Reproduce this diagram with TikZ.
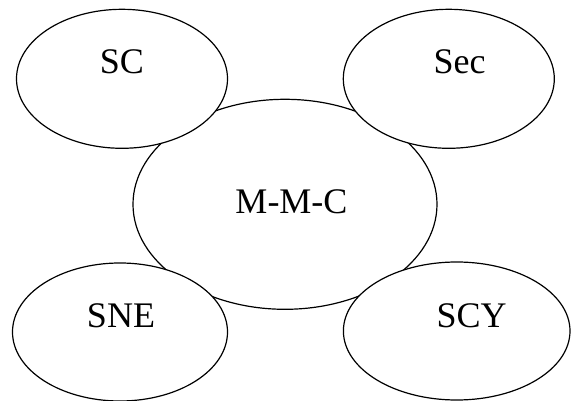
\documentclass[tikz,border=0pt]{standalone}
\usepackage{fontspec}
\setmainfont{Liberation Serif}
\usetikzlibrary{shapes.geometric}
\begin{document}
\begin{tikzpicture}[x=1pt,y=-1pt,
  bubble/.style={ellipse, draw=black, line width=1.2pt, fill=white, inner sep=0pt, outer sep=0pt},
  lbl/.style={font=\fontsize{36}{40}\selectfont, inner sep=0pt}]
\useasboundingbox (0,0) rectangle (571,401);
\node[bubble, minimum width=304pt, minimum height=210pt] (mmc) at (285,204.3) {};
\node[bubble, minimum width=211pt, minimum height=139pt] (sc) at (122,78.8) {};
\node[bubble, minimum width=211pt, minimum height=139pt] (sec) at (448.8,78.8) {};
\node[bubble, minimum width=215pt, minimum height=138pt] (sne) at (120,332) {};
\node[bubble, minimum width=226.6pt, minimum height=138pt] (scy) at (456.7,331) {};
\node[lbl] (tmmc) at (291.5,201.7) {M-M-C};
\node[lbl] (tsc) at (122,62) {SC};
\node[lbl] (tsec) at (459.6,62) {Sec};
\node[lbl] (tsne) at (121,316) {SNE};
\node[lbl] (tscy) at (471.6,316) {SCY};
\end{tikzpicture}
\end{document}
